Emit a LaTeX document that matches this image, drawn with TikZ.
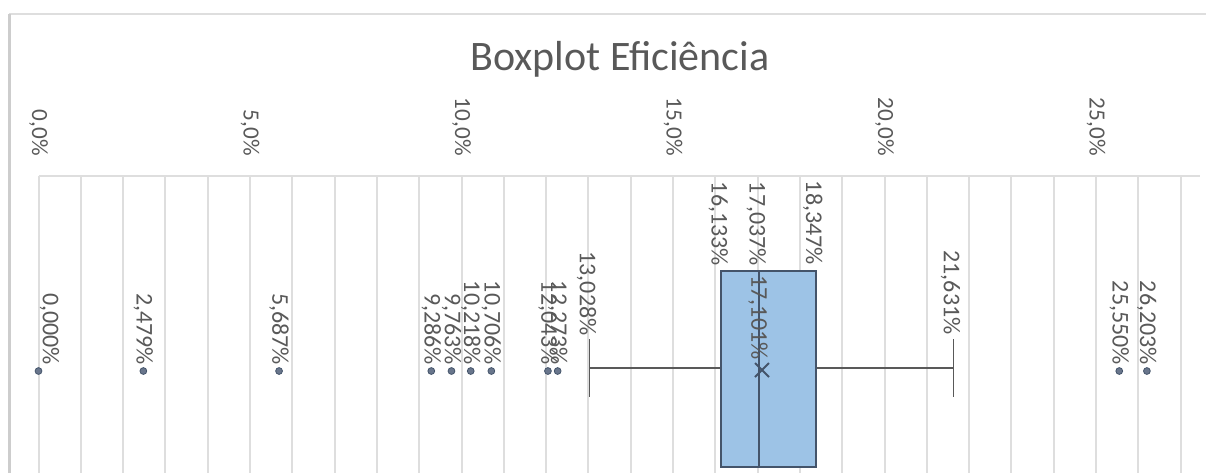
\documentclass[tikz,border=0pt]{standalone}
\usepackage{fontspec}
\setmainfont{Carlito}
\usepackage{tikz}
\usetikzlibrary{positioning, calc, shapes.misc}
\usepackage{xcolor}
\definecolor{axisGray}{RGB}{89,89,89}
\definecolor{gridGray}{RGB}{222,222,222}
\definecolor{frameGray}{RGB}{205,205,205}
\definecolor{boxBlue}{RGB}{157,195,230}
\definecolor{boxEdge}{RGB}{68,84,106}
\definecolor{dotBlue}{RGB}{105,118,140}

\begin{document}
\begin{tikzpicture}[
  x=0.5pt, y=-0.5pt,
  vlabel/.style={
    rotate=-90, anchor=east, inner sep=1pt,
    font=\fontsize{12}{12}\selectfont, text=axisGray
  },
  ticklabel/.style={vlabel, font=\fontsize{11.6}{12}\selectfont},
  outlier/.style={
    circle, draw=boxEdge, fill=dotBlue,
    inner sep=0pt, minimum size=3.4pt
  },
  boxbody/.style={
    rectangle, draw=boxEdge, fill=boxBlue, line width=0.8pt,
    minimum width=47.5pt, minimum height=98pt, inner sep=0pt
  },
  whisker/.style={draw=axisGray, line width=0.8pt},
  grid line/.style={draw=gridGray, line width=1pt}
]
  \useasboundingbox (0,0) rectangle (1206,473);

  % Frame
  \draw[draw=gridGray, line width=1pt] (9,14) -- (1206,14);
  \draw[draw=frameGray, line width=1.5pt] (9,14) -- (9,473);

  % Title
  \node[anchor=base, font=\fontsize{21}{21}\selectfont, text=axisGray]
    (title) at (620,70) {Boxplot Eficiência};

  % Grid
  \foreach \i in {0,...,27}
    \draw[grid line] ({38.5+42.3*\i},176) -- ({38.5+42.3*\i},473);
  \draw[grid line] (38.5,176) -- (1200,176);

  % Axis labels
  \foreach \v/\t in {0/{0,0\%}, 5/{5,0\%}, 10/{10,0\%},
                     15/{15,0\%}, 20/{20,0\%}, 25/{25,0\%}}
    \node[ticklabel] (tick\v) at ({38.5+42.3*\v},158) {\t};

  % Box and whiskers
  \node[boxbody] (box) at (768.5,369) {};
  \coordinate (med) at (759.2,0);
  \coordinate (loW) at (589.6,368);
  \coordinate (hiW) at (953.5,368);
  \draw[boxEdge, line width=0.8pt] (box.north -| med) -- (box.south -| med);
  \draw[whisker] (box.west |- loW) -- (loW);
  \draw[whisker] (box.east |- hiW) -- (hiW);
  \draw[whisker] ($(loW)+(0,-29)$) -- ($(loW)+(0,29)$);
  \draw[whisker] ($(hiW)+(0,-29)$) -- ($(hiW)+(0,29)$);
  \node[cross out, draw=boxEdge, line width=1pt, minimum size=6pt,
    inner sep=0pt] (mean) at (762,370) {};

  % Quartile labels
  \node[vlabel] (lQ1) at ($(box.north west)+(-2,-2)$) {16,133\%};
  \node[vlabel] (lmed) at ($(med |- box.north)+(-3,-2)$) {17,037\%};
  \node[vlabel] (lQ3) at ($(box.north east)+(-4,-3)$) {18,347\%};
  \node[vlabel] (lmean) at ($(mean.north)+(-4,-1)$) {17,101\%};
  \node[vlabel] (llo) at ($(loW)+(-3,-30)$) {13,028\%};
  \node[vlabel] (lhi) at ($(hiW)+(-3,-31)$) {21,631\%};

  % Outliers
  \foreach \v/\t/\s [count=\k] in {0.000/{0,000\%}/11, 2.479/{2,479\%}/0,
      5.687/{5,687\%}/0, 9.286/{9,286\%}/0, 9.763/{9,763\%}/0,
      10.218/{10,218\%}/0, 10.706/{10,706\%}/0, 12.043/{12,043\%}/0,
      12.273/{12,273\%}/0, 25.550/{25,550\%}/0, 26.203/{26,203\%}/0}{
    \node[outlier] (o\k) at ({38.5+42.3*\v},371) {};
    \node[vlabel] (lo\k) at ($(o\k.north)+(\s,0)$) {\t};
  }
\end{tikzpicture}
\end{document}
